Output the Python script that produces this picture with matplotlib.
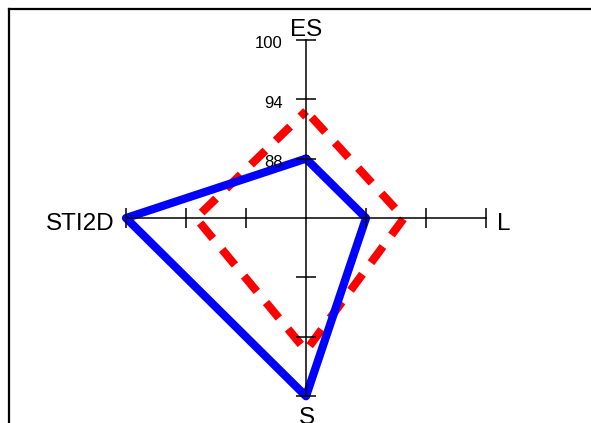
import numpy as np
import matplotlib
matplotlib.use("Agg")
import matplotlib.pyplot as plt
from matplotlib.lines import Line2D

# ---- data ----
categories = ["ES", "L", "S", "STI2D"]
angles_deg = [90, 0, 270, 180]
series_blue = [88, 88, 100, 100]
series_red = [92.8, 91.8, 95.4, 93.0]
r_min = 82
r_max = 100
tick_values = [88, 94, 100]
tick_labels = ["88", "94", "100"]

plt.rcParams["font.family"] = ["Liberation Sans", "DejaVu Sans"]

W, H, DPI = 591, 423, 100
fig = plt.figure(figsize=(W / DPI, H / DPI), dpi=DPI)
ax = fig.add_axes([0, 0, 1, 1])
ax.set_xlim(-30.6, 28.5)
ax.set_ylim(-20.7, 22.02)
ax.axis("off")

ang = np.deg2rad(angles_deg)


def to_xy(vals):
    r = np.asarray(vals, dtype=float) - r_min
    x = r * np.cos(ang)
    y = r * np.sin(ang)
    return np.append(x, x[0]), np.append(y, y[0])


lw = 5.9
# red dashed series
xr, yr = to_xy(series_red)
red_line, = ax.plot(xr, yr, color="#ff0000", lw=lw, solid_joinstyle="round",
                    dash_joinstyle="round", dash_capstyle="butt", zorder=2)
red_line.set_linestyle((1.25 * lw, (2.45, 1.75)))

# blue solid series
xb, yb = to_xy(series_blue)
ax.plot(xb, yb, color="#0000ff", lw=lw, solid_joinstyle="round",
        solid_capstyle="round", zorder=3)

# axes and ticks
R = r_max - r_min
for a in ang:
    c, s = np.cos(a), np.sin(a)
    ax.plot([0, R * c], [0, R * s], color="black", lw=1.1, zorder=4)
    for tv in tick_values:
        t = tv - r_min
        px, py = t * c, t * s
        ax.plot([px - 1.0 * s, px + 1.0 * s], [py - 0.97 * c, py + 0.97 * c],
                color="black", lw=1.1, zorder=4, solid_capstyle="butt")

# tick labels on the top (ES) axis
for tv, tl in zip(tick_values, tick_labels):
    t = tv - r_min
    ax.text(-2.36, t - 0.86, tl, ha="right", va="baseline", fontsize=12,
            color="black")

# category labels
lab_fs = 17.5
ax.text(0.05, R + 0.42, categories[0], ha="center", va="baseline",
        fontsize=lab_fs)
ax.text(R + 1.1, -1.21, categories[1], ha="left", va="baseline",
        fontsize=lab_fs)
ax.text(0.05, -20.83, categories[2], ha="center", va="baseline",
        fontsize=lab_fs, clip_on=False)
ax.text(-R - 1.15, -1.21, categories[3], ha="right", va="baseline",
        fontsize=lab_fs)

# outer frame (top and left edges visible)
x0 = 9 / W
y0 = 1 - 9 / H
fig.add_artist(Line2D([x0, 1.0], [y0, y0], transform=fig.transFigure,
                      color="black", lw=1.6))
fig.add_artist(Line2D([x0, x0], [y0, 0.0], transform=fig.transFigure,
                      color="black", lw=1.6))

fig.savefig("out.png", dpi=DPI)
